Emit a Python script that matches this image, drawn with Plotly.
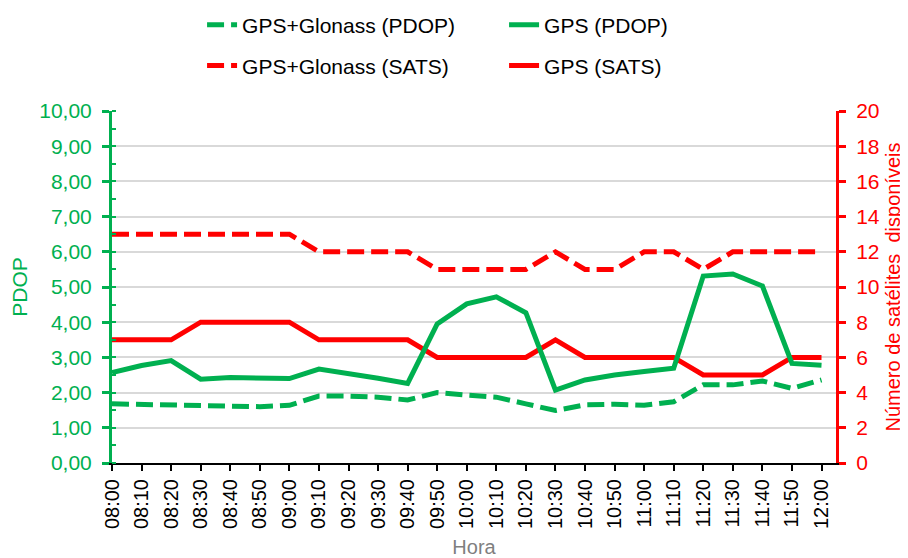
import plotly.graph_objects as go

horas = ["08:00", "08:10", "08:20", "08:30", "08:40", "08:50", "09:00", "09:10", "09:20",
         "09:30", "09:40", "09:50", "10:00", "10:10", "10:20", "10:30", "10:40", "10:50",
         "11:00", "11:10", "11:20", "11:30", "11:40", "11:50", "12:00"]

pdop_gps_glonass = [1.68, 1.67, 1.66, 1.65, 1.62, 1.60, 1.64, 1.90, 1.90, 1.87, 1.79, 2.00, 1.93,
                    1.87, 1.68, 1.49, 1.65, 1.67, 1.64, 1.74, 2.22, 2.22, 2.33, 2.12, 2.36]
pdop_gps = [2.57, 2.77, 2.91, 2.38, 2.43, 2.43, 2.40, 2.67, 2.55, 2.41, 2.26, 3.95, 4.52,
            4.72, 4.27, 2.07, 2.36, 2.50, 2.60, 2.69, 5.31, 5.37, 5.03, 2.83, 2.78]
sats_gps_glonass = [13, 13, 13, 13, 13, 13, 13, 12, 12, 12, 12, 11, 11,
                    11, 11, 12, 11, 11, 12, 12, 11, 12, 12, 12, 12]
sats_gps = [7, 7, 7, 8, 8, 8, 8, 7, 7, 7, 7, 6, 6,
            6, 6, 7, 6, 6, 6, 6, 5, 5, 5, 6, 6]

GREEN = "#00B050"
RED = "#FF0000"
FONT = "Liberation Sans, Arial, sans-serif"
DASH = "17px,7px"

fig = go.Figure()

# SATS on the right axis (y), drawn first
fig.add_trace(go.Scatter(x=horas, y=sats_gps_glonass, name="GPS+Glonass (SATS)", mode="lines",
                         line=dict(color=RED, width=5, dash=DASH), yaxis="y", legend="legend2"))
fig.add_trace(go.Scatter(x=horas, y=sats_gps, name="GPS (SATS)", mode="lines",
                         line=dict(color=RED, width=5), yaxis="y", legend="legend2"))
# PDOP on the left axis (y2, overlaying)
fig.add_trace(go.Scatter(x=horas, y=pdop_gps_glonass, name="GPS+Glonass (PDOP)", mode="lines",
                         line=dict(color=GREEN, width=5, dash=DASH), yaxis="y2", legend="legend"))
fig.add_trace(go.Scatter(x=horas, y=pdop_gps, name="GPS (PDOP)", mode="lines",
                         line=dict(color=GREEN, width=5), yaxis="y2", legend="legend"))

legend_common = dict(orientation="h", xanchor="left", yanchor="middle",
                     font=dict(family=FONT, size=21, color="#000000"),
                     entrywidth=257, entrywidthmode="pixels", bgcolor="rgba(0,0,0,0)",
                     traceorder="normal")

fig.update_layout(
    width=900, height=550,
    margin=dict(l=104, r=72, t=103, b=95, autoexpand=False),
    paper_bgcolor="white", plot_bgcolor="white",
    separators=",.",
    font=dict(family=FONT, size=21),
    legend=dict(x=0.1244, y=1.244, **legend_common),
    legend2=dict(x=0.1244, y=1.128, **legend_common),
    xaxis=dict(
        type="category", range=[0, 24.49], automargin=False,
        showline=True, linecolor="#000000", linewidth=2,
        ticks="outside", ticklen=6, tickwidth=2, tickcolor="#000000",
        tickangle=-90, tickfont=dict(family=FONT, size=20, color="#000000"),
        showgrid=False, zeroline=False,
        title=dict(text="Hora", font=dict(family=FONT, size=20, color="#7F7F7F"), standoff=14),
    ),
    yaxis=dict(
        side="right", range=[0, 20], dtick=2, tick0=0, automargin=False,
        showline=True, linecolor=RED, linewidth=3,
        ticks="outside", ticklen=7, tickwidth=3, tickcolor=RED,
        ticklabelstandoff=6,
        tickfont=dict(family=FONT, size=21, color=RED),
        showgrid=True, gridcolor="#D9D9D9", gridwidth=1.5, zeroline=False,
        title=dict(text="Número de satélites  disponíveis", font=dict(family=FONT, size=20, color=RED),
                   standoff=8),
    ),
    yaxis2=dict(
        side="left", overlaying="y", anchor="x", range=[0, 10], dtick=1, tick0=0,
        tickformat=".2f", automargin=False,
        showline=True, linecolor=GREEN, linewidth=3,
        ticks="outside", ticklen=7, tickwidth=3, tickcolor=GREEN,
        ticklabelstandoff=6,
        minor=dict(ticks="inside", dtick=0.5, ticklen=4, tickwidth=2, tickcolor=GREEN, showgrid=False),
        tickfont=dict(family=FONT, size=21, color=GREEN),
        showgrid=False, zeroline=False,
        title=dict(text="PDOP", font=dict(family=FONT, size=21, color=GREEN)),
    ),
)

fig.write_html("out.html")
